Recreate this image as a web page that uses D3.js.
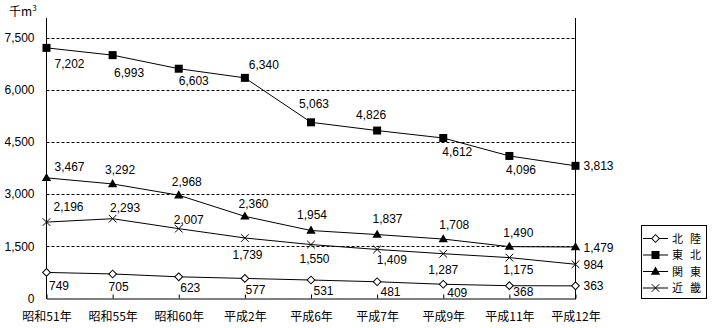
<!DOCTYPE html>
<html><head><meta charset="utf-8">
<script src="https://cdn.jsdelivr.net/npm/d3@7"></script>
<style>body{margin:0;background:#fff}svg{display:block}</style>
</head><body>
<script>
const categories = ["昭和51年","昭和55年","昭和60年","平成2年","平成6年","平成7年","平成9年","平成11年","平成12年"];
const hokuriku = [749,705,623,577,531,481,409,368,363];
const tohoku   = [7202,6993,6603,6340,5063,4826,4612,4096,3813];
const kanto    = [3467,3292,2968,2360,1954,1837,1708,1490,1479];
const kinki    = [2196,2293,2007,1739,1550,1409,1287,1175,984];
const yTicks   = [0,1500,3000,4500,6000,7500];
const seriesNames = ["北陸","東北","関東","近畿"];

// label offsets (layout only)
const labelOffsets = {
  "東北": [[23,16],[16.5,17.6],[15,11.5],[19,-12.7],[3,-18.7],[-6,-16],[14,13.6],[11.6,13.7]],
  "関東": [[23,-11],[7.5,-14.3],[8,-14],[8.6,-12.8],[1,-16],[10.4,-16],[11,-14.5],[9,-14]],
  "近畿": [[22,-15.5],[12.5,-11],[10,-8.6],[2.6,17],[3.5,14],[14.7,10],[0,16.3],[9,12.4]],
  "北陸": [[12.5,13.6],[6,13],[11.5,11],[10.6,11.3],[12.5,11],[13.4,9.8],[14,8.7],[14,6.3]]
};

const series = [
  {name:"北陸", values:hokuriku, marker:"diamond"},
  {name:"東北", values:tohoku, marker:"square"},
  {name:"関東", values:kanto, marker:"triangle"},
  {name:"近畿", values:kinki, marker:"cross"}
];

const W=716,H=328;
const svg=d3.select("body").append("svg").attr("width",W).attr("height",H);
const x=d3.scalePoint().domain(categories).range([46.5,575.5]);
const y=d3.scaleLinear().domain([0,7500]).range([298.5,37.5]);
const numFont="'Liberation Sans', Arial, sans-serif";
const jpFont="'Noto Sans CJK JP', sans-serif";
const fmt=d3.format(",");

// gridlines
svg.append("g").selectAll("line").data(yTicks.filter(d=>d>0)).join("line")
  .attr("x1",46.5).attr("x2",575.5).attr("y1",d=>Math.round(y(d))+0.5).attr("y2",d=>Math.round(y(d))+0.5)
  .attr("stroke","#000").attr("stroke-width",1).attr("stroke-dasharray","3,2");

// axes
const yAxis=d3.axisLeft(y).tickValues(yTicks).tickSize(0).tickPadding(12).tickFormat(fmt);
const gy=svg.append("g").attr("transform","translate(46.5,0)").call(yAxis);
gy.select(".domain").remove();
gy.selectAll("text").attr("font-family",numFont).attr("font-size",12).attr("fill","#000");
svg.append("line").attr("x1",46.5).attr("x2",46.5).attr("y1",18).attr("y2",299).attr("stroke","#000");
svg.append("line").attr("x1",575.5).attr("x2",575.5).attr("y1",18).attr("y2",299).attr("stroke","#000");

const xAxis=d3.axisBottom(x).tickSizeInner(-4).tickSizeOuter(0).tickPadding(14);
const gx=svg.append("g").attr("transform","translate(0,298.5)").call(xAxis);
gx.select(".domain").attr("stroke","#000");
gx.selectAll(".tick line").attr("stroke","#000");
gx.selectAll("text").attr("font-family",jpFont).attr("font-size",12).attr("fill","#000");

// unit label
const unit=svg.append("text").attr("x",9).attr("y",16).attr("font-family",jpFont).attr("font-size",12).attr("fill","#000");
unit.append("tspan").text("千m");
unit.append("tspan").attr("font-size",8).attr("dy",-5).text("3");

// marker drawing
function drawMarker(g,type,cx,cy){
  if(type==="square"){
    g.append("path").attr("d",d3.symbol(d3.symbolSquare,64)()).attr("transform",`translate(${cx},${cy})`).attr("fill","#000");
  } else if(type==="triangle"){
    g.append("path").attr("d",d3.symbol(d3.symbolTriangle,38)()).attr("transform",`translate(${cx},${cy+0.5})`).attr("fill","#000");
  } else if(type==="diamond"){
    g.append("path").attr("d",d3.symbol(d3.symbolSquare,30)()).attr("transform",`translate(${cx},${cy}) rotate(45)`).attr("fill","#fff").attr("stroke","#000").attr("stroke-width",1);
  } else {
    g.append("path").attr("d",d3.symbol(d3.symbolTimes,40)()).attr("transform",`translate(${cx},${cy})`).attr("fill","none").attr("stroke","#000").attr("stroke-width",1);
  }
}

const line=d3.line().x((d,i)=>x(categories[i])).y(d=>y(d));
series.forEach(s=>{
  const g=svg.append("g");
  g.append("path").attr("d",line(s.values)).attr("fill","none").attr("stroke","#000").attr("stroke-width",1);
  s.values.forEach((v,i)=>drawMarker(g,s.marker,x(categories[i]),y(v)));
  const offs=labelOffsets[s.name];
  s.values.forEach((v,i)=>{
    const last=i===s.values.length-1;
    const t=g.append("text").attr("font-family",numFont).attr("font-size",12).attr("fill","#000").text(fmt(v));
    if(last){
      t.attr("x",x(categories[i])+8).attr("y",y(v)+4.5).attr("text-anchor","start");
    } else {
      t.attr("x",x(categories[i])+offs[i][0]).attr("y",y(v)+offs[i][1]+4.3).attr("text-anchor","middle");
    }
  });
});

// legend
const lg=svg.append("g");
lg.append("rect").attr("x",641.5).attr("y",225.5).attr("width",65).attr("height",73).attr("fill","#fff").attr("stroke","#000");
series.forEach((s,i)=>{
  const cy=238+i*16.5;
  lg.append("line").attr("x1",643).attr("x2",668).attr("y1",cy+0.5).attr("y2",cy+0.5).attr("stroke","#000");
  drawMarker(lg,s.marker,655.5,cy+0.5);
  const t=lg.append("text").attr("y",cy+4.5).attr("font-family",jpFont).attr("font-size",11).attr("fill","#000");
  t.append("tspan").attr("x",672).text(seriesNames[i][0]);
  t.append("tspan").attr("x",690).text(seriesNames[i][1]);
});
</script>
</body></html>
